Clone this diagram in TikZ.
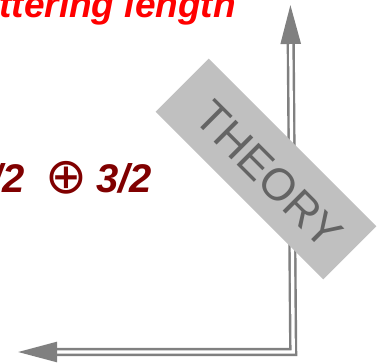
\documentclass[tikz,border=0pt]{standalone}
\usepackage{xcolor}
\usepackage{fontspec}
\setmainfont{Liberation Sans}
\newfontfamily\symbfont{DejaVu Sans}
\usepackage{tikz}
\usetikzlibrary{arrows.meta}
\definecolor{scatred}{RGB}{255,0,0}
\definecolor{spinred}{RGB}{128,0,0}
\definecolor{axisgray}{RGB}{128,128,128}
\definecolor{bandgray}{RGB}{192,192,192}
\definecolor{theorygray}{RGB}{100,100,100}

\begin{document}
\begin{tikzpicture}[x=1pt, y=-1pt, every node/.style={inner sep=0pt, align=center},
  axisline/.style={draw=axisgray, double=white, line width=2.4pt, double distance=3.3pt,
    line join=miter, {Triangle[length=39pt,width=20pt]}-{Triangle[length=39pt,width=20pt]}}]
  % frame of the slide excerpt
  \useasboundingbox (0,0) rectangle (379,363);
  \clip (0,0) rectangle (379,363);

  % headline, cut off at the left
  \node[font=\fontsize{37}{40}\selectfont\bfseries\itshape, text=scatred, anchor=base east]
    (scat) at (236,17.5) {ttering length};

  % spin sum
  \def\spinsize{\fontsize{40}{44}\selectfont\bfseries\itshape}
  \node[font=\spinsize, text=spinred, anchor=base east] (half) at (25,192) {/2};
  \node[font=\symbfont\fontsize{50}{54}\selectfont, text=spinred] (oplus) at (66,178) {⊕};
  \node[font=\spinsize, text=spinred, anchor=base west] (threehalf) at (96,192) {3/2};

  % axes
  \coordinate (xend) at (18,352);
  \coordinate (corner) at (293.2,352);
  \coordinate (yend) at (290.4,5);
  \draw[axisline] (xend) -- (corner) -- (yend);

  % tilted band
  \node[fill=bandgray, minimum width=237pt, minimum height=75pt, rotate=-45] (band) at (266,169) {};
  \node[font=\fontsize{45}{48}\selectfont, text=theorygray, rotate=-45] (theory) at (269,175) {THEORY};
\end{tikzpicture}
\end{document}
